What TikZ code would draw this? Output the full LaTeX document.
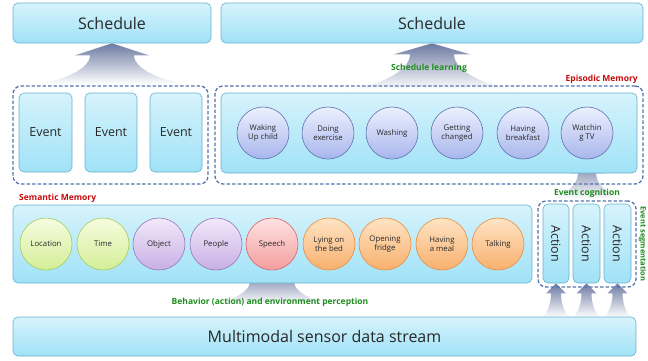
\documentclass[tikz,border=0pt]{standalone}
\usepackage{fontspec}
\setmainfont{Open Sans}
\usetikzlibrary{calc}
\pgfdeclarelayer{background}
\pgfsetlayers{background,main}

% palette
\definecolor{boxtop}{RGB}{214,243,252}
\definecolor{boxbot}{RGB}{160,226,247}
\definecolor{boxline}{RGB}{104,176,206}
\definecolor{dashline}{RGB}{84,114,172}
\definecolor{arrowtop}{RGB}{108,122,162}
\definecolor{txt}{RGB}{40,40,40}
\definecolor{lbgreen}{RGB}{30,140,30}
\definecolor{lbred}{RGB}{200,10,10}
\definecolor{epitop}{RGB}{236,240,254}
\definecolor{epibot}{RGB}{168,182,236}
\definecolor{epiline}{RGB}{96,112,176}
\definecolor{grntop}{RGB}{246,252,224}
\definecolor{grnbot}{RGB}{212,238,150}
\definecolor{grnline}{RGB}{164,204,92}
\definecolor{purtop}{RGB}{242,232,250}
\definecolor{purbot}{RGB}{200,176,228}
\definecolor{purline}{RGB}{150,118,190}
\definecolor{redtop}{RGB}{254,226,226}
\definecolor{redbot}{RGB}{244,158,158}
\definecolor{redline}{RGB}{216,100,100}
\definecolor{orgtop}{RGB}{254,228,196}
\definecolor{orgbot}{RGB}{248,176,110}
\definecolor{orgline}{RGB}{232,142,62}

% fat shaded arrow: tip, head length, head half width, neck half width, length, base half width
\newcommand\fatarrow[6]{%
  \path[top color=arrowtop,bottom color=white]
    (#1) -- ($(#1)+(#3,#2)$) -- ($(#1)+(#4,#2)$)
    .. controls ($(#1)+(#4,{#2+0.55*(#5-#2)})$) and ($(#1)+({#6-0.4*(#6-#4)},#5)$) .. ($(#1)+(#6,#5)$)
    -- ($(#1)+(-#6,#5)$)
    .. controls ($(#1)+({-#6+0.4*(#6-#4)},#5)$) and ($(#1)+(-#4,{#2+0.55*(#5-#2)})$) .. ($(#1)+(-#4,#2)$)
    -- ($(#1)+(-#3,#2)$) -- cycle;}

\begin{document}
\begin{tikzpicture}[x=1pt,y=-1pt,
  every node/.style={text=txt},
  panel/.style={draw=boxline,line width=0.6pt,rounded corners=5pt,
    top color=boxtop,bottom color=boxbot,inner sep=0pt},
  group/.style={draw=dashline,line width=1.3pt,dash pattern=on 3.5pt off 2pt,
    rounded corners=8pt,inner sep=0pt},
  bubble/.style={circle,minimum size=52pt,inner sep=0pt,line width=0.6pt,
    align=center,font=\fontsize{7.8}{9.2}\selectfont},
  epi/.style={bubble,draw=epiline,top color=epitop,bottom color=epibot},
  grn/.style={bubble,draw=grnline,top color=grntop,bottom color=grnbot},
  pur/.style={bubble,draw=purline,top color=purtop,bottom color=purbot},
  rd/.style={bubble,draw=redline,top color=redtop,bottom color=redbot},
  org/.style={bubble,draw=orgline,top color=orgtop,bottom color=orgbot},
  bigtxt/.style={font=\fontsize{16}{19}\selectfont},
  midtxt/.style={font=\fontsize{12.5}{15}\selectfont},
  note/.style={font=\bfseries\fontsize{8.5}{10}\selectfont,inner sep=0pt}]
\useasboundingbox (0,0) rectangle (648,360);

% schedules
\node[panel,minimum width=198pt,minimum height=40pt,bigtxt] (sched1) at (112,23) {Schedule};
\node[panel,minimum width=422pt,minimum height=40pt,bigtxt] (sched2) at (432,23) {Schedule};

% events
\node[group,minimum width=195pt,minimum height=98pt] (evgroup) at (110.5,135) {};
\node[panel,minimum width=53pt,minimum height=79pt,midtxt] (ev1) at (45.5,132.5) {Event};
\node[panel,minimum width=52pt,minimum height=79pt,midtxt] (ev2) at (111,132.5) {Event};
\node[panel,minimum width=52pt,minimum height=79pt,midtxt] (ev3) at (176,132.5) {Event};

% episodic memory
\node[group,minimum width=428pt,minimum height=98pt] (epgroup) at (429,135) {};
\node[panel,minimum width=416pt,minimum height=80pt] (epbox) at (429,133) {};
\node[epi] (e1) at (263,133) {Waking\\Up child};
\node[epi] (e2) at (328,133) {Doing\\exercise};
\node[epi] (e3) at (392,133) {Washing};
\node[epi] (e4) at (457,133) {Getting\\changed};
\node[epi] (e5) at (523,133) {Having\\breakfast};
\node[epi] (e6) at (587,133) {Watchin\\g TV};
\node[note,text=lbred,anchor=east] (eplabel) at (638,79) {Episodic Memory};
\node[note,text=lbgreen] (learn) at (429,68) {Schedule learning};

% semantic memory
\node[panel,minimum width=519pt,minimum height=78pt] (sembox) at (272.5,244) {};
\node[note,text=lbred,anchor=west] (semlabel) at (19,198) {Semantic Memory};
\node[grn] (s1) at (46,244) {Location};
\node[grn] (s2) at (103,244) {Time};
\node[pur] (s3) at (159,244) {Object};
\node[pur] (s4) at (216,244) {People};
\node[rd]  (s5) at (272,244) {Speech};
\node[org] (s6) at (329,244) {Lying on\\the bed};
\node[org] (s7) at (385,244) {Opening\\fridge};
\node[org] (s8) at (442,244) {Having\\a meal};
\node[org] (s9) at (498,244) {Talking};

% actions
\node[group,minimum width=98pt,minimum height=86pt] (actgroup) at (587,244) {};
\node[panel,minimum width=26pt,minimum height=79pt] (a1) at (556,243.5) {};
\node[panel,minimum width=27pt,minimum height=79pt] (a2) at (586.5,243.5) {};
\node[panel,minimum width=27pt,minimum height=79pt] (a3) at (617.5,243.5) {};
\foreach \a in {a1,a2,a3}{
  \node[midtxt,rotate=-90] at (\a.center) {Action};
}
\node[note,text=lbgreen] (cogn) at (587,193) {Event cognition};
\node[note,text=lbgreen,rotate=-90,font=\bfseries\fontsize{7.5}{9}\selectfont] (segm) at (642.5,244) {Event segmentation};

% sensor stream
\node[panel,minimum width=623pt,minimum height=39pt,bigtxt] (sensor) at (324.5,336.5) {Multimodal sensor data stream};
\node[note,text=lbgreen] (percep) at (270,302) {Behavior (action) and environment perception};

% shaded flow arrows
\begin{pgfonlayer}{background}
  \fatarrow{sched1.south}{12}{37}{22}{41}{84}
  \fatarrow{sched2.south}{11}{38}{22}{46}{90}
  \fatarrow{e6.south}{14}{17}{9}{40}{42}
  \fatarrow{s5.south}{11}{38}{22}{34}{66}
  \foreach \a in {a1,a2,a3}{
    \fatarrow{\a.south}{10}{10}{5}{34}{15}
  }
\end{pgfonlayer}
\end{tikzpicture}
\end{document}
